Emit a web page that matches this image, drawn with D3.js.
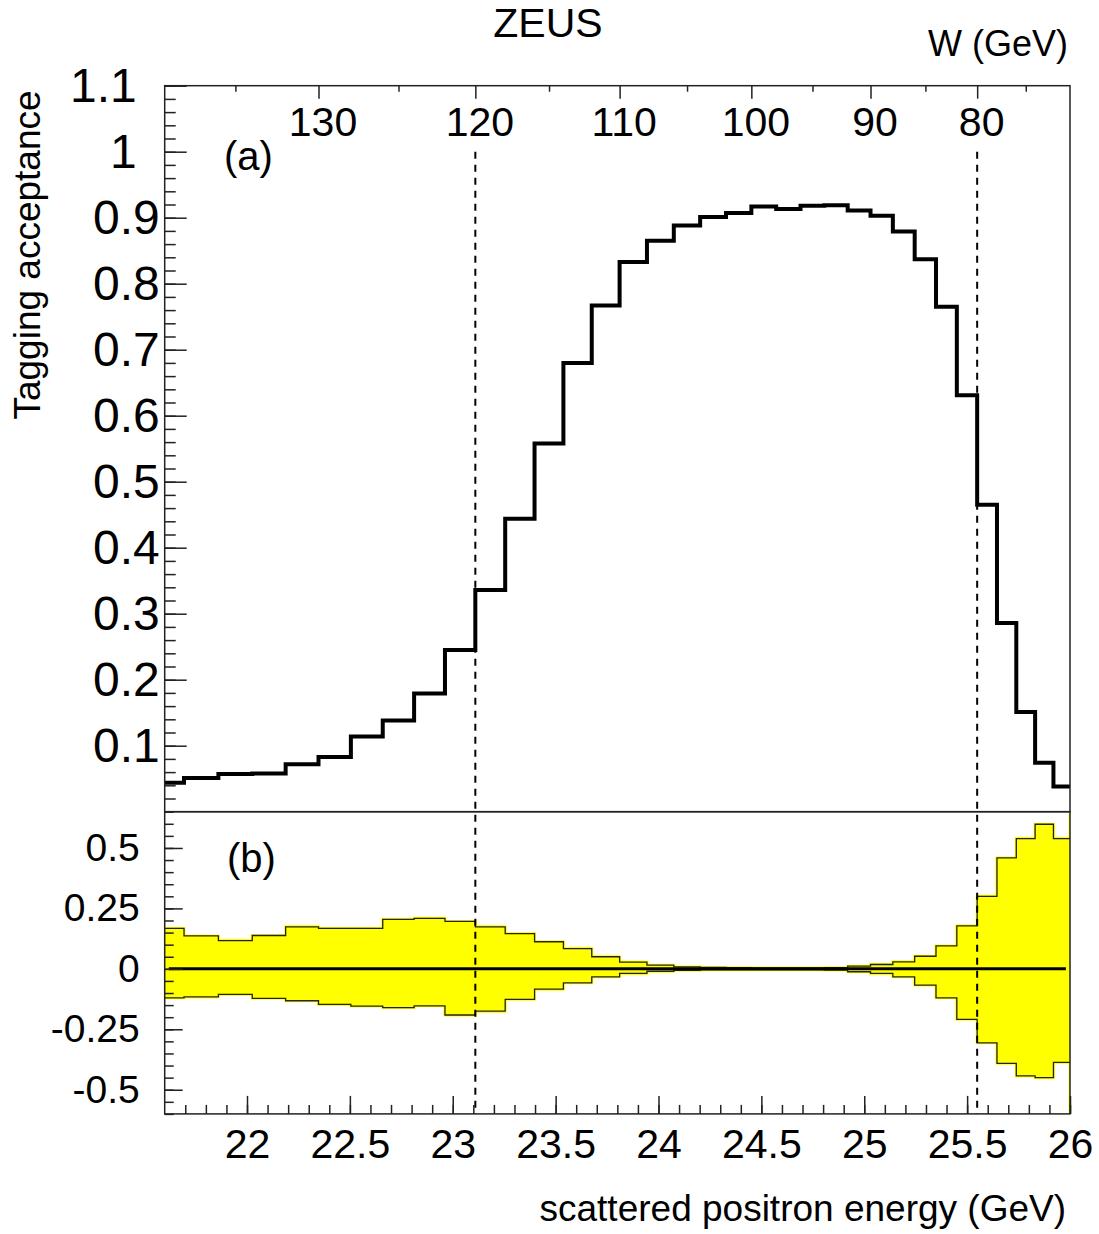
<!DOCTYPE html>
<html><head><meta charset="utf-8">
<script src="https://cdn.jsdelivr.net/npm/d3@7/dist/d3.min.js"></script>
<style>
body{margin:0;background:#fff}
svg{display:block}
text{font-family:"Liberation Sans",Arial,Helvetica,sans-serif;fill:#000}
</style>
</head><body>
<svg id="chart" width="1099" height="1234"></svg>
<script>
// ---------------- data ----------------
// bins of 2 GeV in W (high W = low scattered positron energy, left side)
const wEdges = [140,138,136,134,132,130,128,126,124,122,120,118,116,114,112,110,108,106,104,102,100,98,96,94,92,90,88,86,84,82,80,78,76,74,72,70];
const acceptance = [0.044,0.051,0.057,0.058,0.072,0.083,0.114,0.138,0.179,0.245,0.336,0.444,0.558,0.680,0.767,0.833,0.865,0.888,0.901,0.907,0.917,0.913,0.918,0.919,0.911,0.903,0.879,0.837,0.765,0.631,0.465,0.286,0.151,0.074,0.038];
const bandUpper = [0.167,0.136,0.117,0.138,0.174,0.167,0.167,0.205,0.209,0.196,0.174,0.146,0.112,0.084,0.050,0.028,0.015,0.008,0.006,0.005,0.004,0.004,0.004,0.005,0.011,0.018,0.029,0.052,0.095,0.178,0.300,0.459,0.539,0.598,0.539];
const bandLower = [-0.120,-0.116,-0.106,-0.122,-0.132,-0.147,-0.154,-0.160,-0.153,-0.191,-0.175,-0.126,-0.084,-0.058,-0.033,-0.019,-0.010,-0.006,-0.004,-0.004,-0.004,-0.004,-0.004,-0.005,-0.012,-0.019,-0.033,-0.067,-0.120,-0.209,-0.306,-0.391,-0.443,-0.450,-0.387];
const beamPositron = 27.5, beamProton = 820;       // GeV, relation E' <-> W
const cutW = [120, 80];                           // dashed lines
const zeroSpan = [21.62, 25.98];                  // reference line in (b)

const xMajor = [22,22.5,23,23.5,24,24.5,25,25.5,26];
const xLabels = ["22","22.5","23","23.5","24","24.5","25","25.5","26"];
const yTopMajor = [0.1,0.2,0.3,0.4,0.5,0.6,0.7,0.8,0.9,1.0,1.1];
const yTopLabels = ["0.1","0.2","0.3","0.4","0.5","0.6","0.7","0.8","0.9","1","1.1"];
const yBotMajor = [-0.5,-0.25,0,0.25,0.5];
const yBotLabels = ["-0.5","-0.25","0","0.25","0.5"];
const wMajor = [130,120,110,100,90,80];
const wLabels = ["130","120","110","100","90","80"];
const wMinor = [135,125,115,105,95,85,75];

// ---------------- layout ----------------
const X0 = 164.7, X1 = 1070;
const TY0 = 85.7, TY1 = 811.7;
const BY0 = 811.7, BY1 = 1113.9;
const FONT = "Liberation Sans, Arial, sans-serif";

const eOfW = W => beamPositron - W * W / (4 * beamProton);
const wOfE = E => Math.sqrt(4 * beamProton * (beamPositron - E));

const x = d3.scaleLinear().domain([21.6, 26]).range([X0, X1]);
const yTop = d3.scaleLinear().domain([0, 1.1]).range([TY1, TY0]);
const yBot = d3.scaleLinear().domain([-0.6, 0.65]).range([BY1, BY0]);
const wScale = d3.scalePow().exponent(2).domain([wOfE(21.6), wOfE(26)]).range([X0, X1]);

const svg = d3.select("#chart");
const defs = svg.append("defs");
defs.append("clipPath").attr("id","clipTop").append("rect")
  .attr("x", X0).attr("y", TY0).attr("width", X1 - X0).attr("height", TY1 - TY0);
defs.append("clipPath").attr("id","clipBot").append("rect")
  .attr("x", X0).attr("y", BY0).attr("width", X1 - X0).attr("height", BY1 - BY0);

const r3 = v => Math.round(v * 1000) / 1000;

// ---------------- band (b) ----------------
const bandPts = acceptance.map((_, i) => ({e: eOfW(wEdges[i]), up: bandUpper[i], dn: bandLower[i]}));
bandPts.push({e: eOfW(wEdges[wEdges.length - 1]), up: bandUpper[bandUpper.length - 1], dn: bandLower[bandLower.length - 1]});

const gBot = svg.append("g").attr("clip-path","url(#clipBot)");
gBot.append("path").datum(bandPts)
  .attr("d", d3.area().curve(d3.curveStepAfter).x(d => x(d.e)).y0(d => yBot(d.dn)).y1(d => yBot(d.up)))
  .attr("fill","#ffff00").attr("stroke","#ffff00").attr("stroke-width",3);
gBot.append("line")
  .attr("x1", x(26)).attr("x2", x(26)).attr("y1", BY0).attr("y2", BY1)
  .attr("stroke","#ffff00").attr("stroke-width",3);
["up","dn"].forEach(k => {
  gBot.append("path").datum(bandPts)
    .attr("d", d3.line().curve(d3.curveStepAfter).x(d => x(d.e)).y(d => yBot(d[k])))
    .attr("fill","none").attr("stroke","#222").attr("stroke-width",1.3);
});
gBot.append("line")
  .attr("x1", x(zeroSpan[0])).attr("x2", x(zeroSpan[1]))
  .attr("y1", yBot(0)).attr("y2", yBot(0))
  .attr("stroke","#000").attr("stroke-width",3);

// ---------------- histogram (a) ----------------
const histPts = acceptance.map((v, i) => ({e: eOfW(wEdges[i]), v}));
histPts.push({e: eOfW(wEdges[wEdges.length - 1]), v: acceptance[acceptance.length - 1]});
svg.append("g").attr("clip-path","url(#clipTop)")
  .append("path").datum(histPts)
  .attr("d", d3.line().curve(d3.curveStepAfter).x(d => x(d.e)).y(d => yTop(d.v)))
  .attr("fill","none").attr("stroke","#000").attr("stroke-width",4).attr("stroke-linejoin","miter");

// ---------------- frames ----------------
svg.append("rect").attr("x", X0).attr("y", TY0).attr("width", X1 - X0).attr("height", TY1 - TY0)
  .attr("fill","none").attr("stroke","#222").attr("stroke-width",1.5);
svg.append("rect").attr("x", X0).attr("y", BY0).attr("width", X1 - X0).attr("height", BY1 - BY0)
  .attr("fill","none").attr("stroke","#222").attr("stroke-width",1.5);

// ---------------- dashed cut lines ----------------
cutW.forEach(W => {
  svg.append("line")
    .attr("x1", wScale(W)).attr("x2", wScale(W))
    .attr("y1", yTop(1.0)).attr("y2", BY1)
    .attr("stroke","#000").attr("stroke-width",2).attr("stroke-dasharray","7,6");
});

// ---------------- axes ----------------
function styleAxis(g, fontSize) {
  g.select(".domain").remove();
  g.selectAll(".tick line").attr("stroke","#222").attr("stroke-width",1.5);
  g.selectAll(".tick text").attr("font-size", fontSize).attr("font-family", FONT).attr("fill","#000");
}

// top panel left axis
const yTopMinor = d3.range(1, 56).map(i => r3(i * 0.02));
svg.append("g").attr("transform",`translate(${X0},0)`)
  .call(d3.axisLeft(yTop).tickValues(yTopMinor).tickSize(-11).tickFormat(""))
  .call(g => styleAxis(g, 48));
svg.append("g").attr("transform",`translate(${X0},0)`)
  .call(d3.axisLeft(yTop).tickValues(yTopMajor).tickSize(-22).tickPadding(5)
    .tickFormat((d, i) => yTopLabels[i]))
  .call(g => styleAxis(g, 48))
  .call(g => g.selectAll(".tick text").filter(d => d >= 1).attr("x", -28));

// top W axis
svg.append("g").attr("transform",`translate(0,${TY0})`)
  .call(d3.axisTop(wScale).tickValues(wMinor).tickSize(-6).tickFormat(""))
  .call(g => styleAxis(g, 41));
svg.append("g").attr("transform",`translate(0,${TY0})`)
  .call(d3.axisTop(wScale).tickValues(wMajor).tickSize(-13).tickFormat((d, i) => wLabels[i]))
  .call(g => styleAxis(g, 41))
  .call(g => g.selectAll(".tick text").attr("y", 50).attr("dy", 0).attr("dx", 4));

// bottom panel left axis
const yBotMinor = d3.range(-12, 14).map(i => r3(i * 0.05));
svg.append("g").attr("transform",`translate(${X0},0)`)
  .call(d3.axisLeft(yBot).tickValues(yBotMinor).tickSize(-9).tickFormat(""))
  .call(g => styleAxis(g, 39));
svg.append("g").attr("transform",`translate(${X0},0)`)
  .call(d3.axisLeft(yBot).tickValues(yBotMajor).tickSize(-18).tickPadding(25)
    .tickFormat((d, i) => yBotLabels[i]))
  .call(g => styleAxis(g, 39));

// bottom x axis
const xMinor = d3.range(217, 261).map(i => r3(i * 0.1));
svg.append("g").attr("transform",`translate(0,${BY1})`)
  .call(d3.axisBottom(x).tickValues(xMinor).tickSize(-9).tickFormat(""))
  .call(g => styleAxis(g, 41));
svg.append("g").attr("transform",`translate(0,${BY1})`)
  .call(d3.axisBottom(x).tickValues(xMajor).tickSize(-18).tickFormat((d, i) => xLabels[i]))
  .call(g => styleAxis(g, 41))
  .call(g => g.selectAll(".tick text").attr("y", 44).attr("dy", 0));

// ---------------- texts ----------------
svg.append("text").attr("x", 548).attr("y", 37).attr("text-anchor","middle")
  .attr("font-size", 41).text("ZEUS");
svg.append("text").attr("x", 1068).attr("y", 56).attr("text-anchor","end")
  .attr("font-size", 36).text("W (GeV)");
svg.append("text").attr("transform","translate(40,255) rotate(-90)").attr("text-anchor","middle")
  .attr("font-size", 37).text("Tagging acceptance");
svg.append("text").attr("x", 224).attr("y", 170).attr("font-size", 40).text("(a)");
svg.append("text").attr("x", 227).attr("y", 872).attr("font-size", 40).text("(b)");
svg.append("text").attr("x", 1066).attr("y", 1221).attr("text-anchor","end")
  .attr("font-size", 37).text("scattered positron energy (GeV)");
</script>
</body></html>
